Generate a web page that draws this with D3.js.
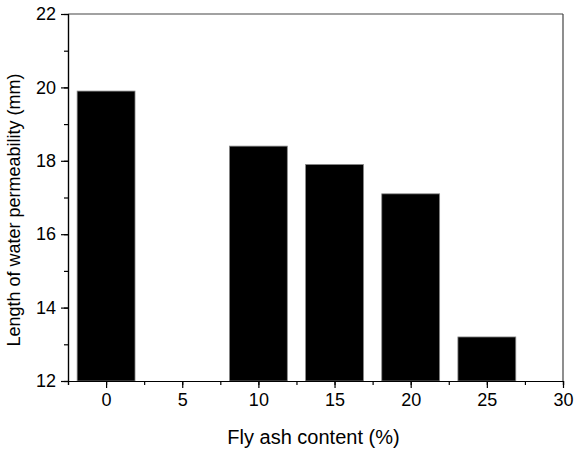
<!DOCTYPE html>
<html>
<head>
<meta charset="utf-8">
<script src="https://cdn.jsdelivr.net/npm/d3@7"></script>
<style>
    body { margin: 0; background: #fff; }
    svg text { font-family: 'Liberation Sans', Arial, sans-serif; fill: #000; }
</style>
</head>
<body>
<div id="chart"></div>
<script>
// fly ash content (%) and measured permeability length (mm); 5% has no bar
var flyAsh = [0, 5, 10, 15, 20, 25];
var permeability = [19.9, null, 18.4, 17.9, 17.1, 13.2];
var xTicks = [0, 5, 10, 15, 20, 25, 30];
var yTicks = [12, 14, 16, 18, 20, 22];

window.onload = start;

function start() {
    var width = 574;
    var height = 450;
    var plotLeft = 68, plotRight = 563, plotTop = 14, plotBottom = 381;
    var barWidth = 3.8;

    var svg = d3.select('#chart')
        .append('svg')
        .attr('width', width)
        .attr('height', height);

    var xScale = d3.scaleLinear().domain([-2.5, 30]).range([plotLeft, plotRight]);
    var yScale = d3.scaleLinear().domain([12, 22]).range([plotBottom, plotTop]);

    // bars
    var data = flyAsh.map(function(d, i) {
        return { x: d, y: permeability[i] };
    }).filter(function(d) { return d.y != null; });

    svg.append('g')
        .selectAll('rect')
        .data(data)
        .enter()
        .append('rect')
        .attr('x', function(d) { return xScale(d.x - barWidth / 2); })
        .attr('y', function(d) { return yScale(d.y); })
        .attr('width', function(d) { return xScale(d.x + barWidth / 2) - xScale(d.x - barWidth / 2); })
        .attr('height', function(d) { return plotBottom - yScale(d.y); })
        .attr('fill', '#000')
        .attr('stroke', '#888')
        .attr('stroke-width', 0.8);

    // frame top / right
    svg.append('line')
        .attr('x1', plotLeft).attr('x2', plotRight)
        .attr('y1', plotTop).attr('y2', plotTop)
        .attr('stroke', '#444').attr('stroke-width', 1.2);
    svg.append('line')
        .attr('x1', plotRight).attr('x2', plotRight)
        .attr('y1', plotTop).attr('y2', plotBottom)
        .attr('stroke', '#444').attr('stroke-width', 1.2);

    // minor ticks
    var xMinor = d3.range(-2.5, 30.01, 2.5);
    var yMinor = d3.range(12, 22.01, 1);

    var xAxisMinor = d3.axisBottom(xScale).tickValues(xMinor).tickSize(4).tickFormat('');
    var yAxisMinor = d3.axisLeft(yScale).tickValues(yMinor).tickSize(4).tickFormat('');

    svg.append('g').attr('transform', 'translate(0,' + plotBottom + ')').call(xAxisMinor);
    svg.append('g').attr('transform', 'translate(' + plotLeft + ',0)').call(yAxisMinor);

    // major ticks
    var xAxis = d3.axisBottom(xScale).tickValues(xTicks).tickSize(7).tickPadding(5).tickSizeOuter(0);
    var yAxis = d3.axisLeft(yScale).tickValues(yTicks).tickSize(7).tickPadding(5).tickSizeOuter(0);

    svg.append('g')
        .attr('class', 'x axis')
        .attr('transform', 'translate(0,' + plotBottom + ')')
        .call(xAxis);
    svg.append('g')
        .attr('class', 'y axis')
        .attr('transform', 'translate(' + plotLeft + ',0)')
        .call(yAxis);

    svg.selectAll('.tick text')
        .style('font-size', '18px');
    svg.selectAll('.domain, .tick line')
        .attr('stroke', '#000')
        .attr('stroke-width', 1.2);

    // axis titles
    svg.append('text')
        .attr('x', (plotLeft + plotRight) / 2 - 2)
        .attr('y', 444)
        .attr('text-anchor', 'middle')
        .style('font-size', '20px')
        .text('Fly ash content (%)');

    svg.append('text')
        .attr('transform', 'translate(20,210) rotate(-90)')
        .attr('text-anchor', 'middle')
        .style('font-size', '18px')
        .text('Length of water permeability (mm)');
}
</script>
</body>
</html>
